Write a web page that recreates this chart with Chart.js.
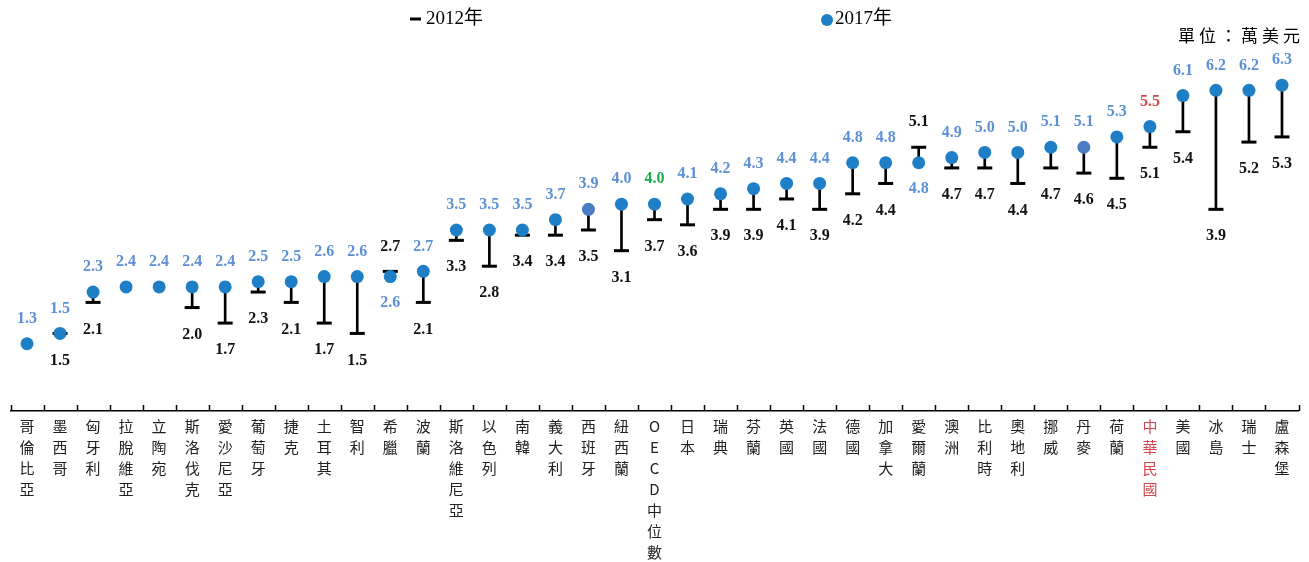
<!DOCTYPE html>
<html>
<head>
<meta charset="utf-8">
<script src="https://cdn.jsdelivr.net/npm/chart.js@4.4.1/dist/chart.umd.min.js"></script>
<style>
  html, body { margin: 0; padding: 0; background: #fff; overflow: hidden; }
  #outer { width: 1309px; height: 562px; overflow: hidden; }
  #wrap { width: 1309px; height: 562px; position: relative; }
</style>
</head>
<body>
<div id="outer"><div id="wrap"><canvas id="gapChart"></canvas></div></div>
<script>
    const categories = ['哥倫比亞', '墨西哥', '匈牙利', '拉脫維亞', '立陶宛', '斯洛伐克', '愛沙尼亞', '葡萄牙', '捷克', '土耳其',
        '智利', '希臘', '波蘭', '斯洛維尼亞', '以色列', '南韓', '義大利', '西班牙', '紐西蘭', 'OECD中位數',
        '日本', '瑞典', '芬蘭', '英國', '法國', '德國', '加拿大', '愛爾蘭', '澳洲', '比利時',
        '奧地利', '挪威', '丹麥', '荷蘭', '中華民國', '美國', '冰島', '瑞士', '盧森堡'];
    const values2017 = [1.3, 1.5, 2.3, 2.4, 2.4, 2.4, 2.4, 2.5, 2.5, 2.6,
        2.6, 2.6, 2.7, 3.5, 3.5, 3.5, 3.7, 3.9, 4.0, 4.0,
        4.1, 4.2, 4.3, 4.4, 4.4, 4.8, 4.8, 4.8, 4.9, 5.0,
        5.0, 5.1, 5.1, 5.3, 5.5, 6.1, 6.2, 6.2, 6.3];
    const values2012 = [null, 1.5, 2.1, null, null, 2.0, 1.7, 2.3, 2.1, 1.7,
        1.5, 2.7, 2.1, 3.3, 2.8, 3.4, 3.4, 3.5, 3.1, 3.7,
        3.6, 3.9, 3.9, 4.1, 3.9, 4.2, 4.4, 5.1, 4.7, 4.7,
        4.4, 4.7, 4.6, 4.5, 5.1, 5.4, 3.9, 5.2, 5.3];
    const oecdName = 'OECD中位數';
    const rocName = '中華民國';
    const mutedDots = ['西班牙', '丹麥'];

    const serif = "'Liberation Serif', 'Noto Sans CJK TC', serif";
    const cjk = "'Noto Sans CJK TC', 'Liberation Serif', sans-serif";

    const dotColors = categories.map(c => mutedDots.includes(c) ? '#4a7cc4' : '#1f7fc6');
    const labelColors = categories.map(c => c === oecdName ? '#1aab4b' : (c === rocName ? '#d6454d' : '#5b8fd6'));

    const gapPlugin = {
        id: 'gapPlugin',
        afterDraw(chart) {
            const ctx = chart.ctx;
            const area = chart.chartArea;
            const n = categories.length;
            const step = (area.right - area.left) / n;

            // upward tick marks on the category axis
            ctx.save();
            ctx.strokeStyle = '#000';
            ctx.lineWidth = 1.5;
            for (let i = 0; i <= n; i++) {
                const x = Math.round(area.left + i * step) + 0.5;
                ctx.beginPath();
                ctx.moveTo(x, area.bottom);
                ctx.lineTo(x, area.bottom - 6);
                ctx.stroke();
            }
            ctx.restore();

            // value labels
            const dots = chart.getDatasetMeta(0).data;
            const caps = chart.getDatasetMeta(1).data;
            ctx.save();
            ctx.font = 'bold 16px ' + serif;
            ctx.textAlign = 'center';
            ctx.textBaseline = 'middle';
            for (let i = 0; i < n; i++) {
                const v17 = values2017[i];
                const v12 = values2012[i];
                const dot = dots[i];
                const flipped = v12 !== null && v12 > v17;
                ctx.fillStyle = labelColors[i];
                ctx.fillText(v17.toFixed(1), dot.x, flipped ? dot.y + 26 : dot.y - 25);
                if (v12 !== null) {
                    const cap = caps[i];
                    ctx.fillStyle = '#111';
                    ctx.fillText(v12.toFixed(1), cap.x, flipped ? cap.y - 25 : cap.y + 27);
                }
            }
            ctx.restore();

            // legend and unit
            ctx.save();
            ctx.strokeStyle = '#000';
            ctx.lineWidth = 3;
            ctx.beginPath();
            ctx.moveTo(410, 19);
            ctx.lineTo(421, 19);
            ctx.stroke();
            ctx.fillStyle = '#000';
            ctx.font = '19px ' + serif;
            ctx.textBaseline = 'middle';
            ctx.textAlign = 'left';
            ctx.fillText('2012年', 426, 19);
            ctx.fillStyle = '#1f7fc6';
            ctx.beginPath();
            ctx.arc(827, 20, 6, 0, Math.PI * 2);
            ctx.fill();
            ctx.fillStyle = '#000';
            ctx.fillText('2017年', 835, 19);
            ctx.font = '17px ' + cjk;
            ctx.letterSpacing = '4px';
            ctx.textAlign = 'right';
            ctx.fillText('單位：萬美元', 1304, 36);
            ctx.restore();
        }
    };

    const ctxGap = document.getElementById('gapChart').getContext('2d');

    new Chart(ctxGap, {
        type: 'bar',
        data: {
            labels: categories.map(c => Array.from(c)),
            datasets: [{
                type: 'line',
                label: '2017年',
                data: values2017,
                showLine: false,
                pointRadius: 6.5,
                pointBorderWidth: 0,
                pointBackgroundColor: dotColors,
                order: 0
            }, {
                type: 'line',
                label: '2012年',
                data: values2012,
                showLine: false,
                pointStyle: 'line',
                pointRadius: 7.5,
                pointBorderWidth: 3,
                pointBorderColor: '#000',
                order: 1
            }, {
                label: 'gap',
                data: values2012.map((v, i) => v === null ? null : [v, values2017[i]]),
                backgroundColor: '#000',
                barThickness: 2,
                order: 2
            }]
        },
        options: {
            responsive: true,
            maintainAspectRatio: false,
            animation: false,
            events: [],
            layout: { padding: { top: 49, left: 8, right: 3, bottom: -6 } },
            plugins: {
                legend: { display: false },
                tooltip: { enabled: false }
            },
            scales: {
                x: {
                    grid: { display: false, drawTicks: false },
                    border: { display: true, color: '#000', width: 1.5 },
                    ticks: {
                        autoSkip: false,
                        maxRotation: 0,
                        padding: 5,
                        color: ctx => categories[ctx.index] === rocName ? '#d6454d' : '#222',
                        font: { family: cjk, size: 15, lineHeight: '21px' }
                    }
                },
                y: {
                    display: false,
                    min: 0,
                    max: 7
                }
            }
        },
        plugins: [gapPlugin]
    });
</script>
</body>
</html>
